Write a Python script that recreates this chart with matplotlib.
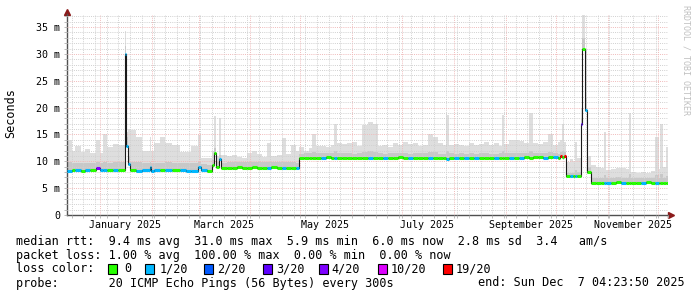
import numpy as np
import matplotlib
matplotlib.use('Agg')
import matplotlib.pyplot as plt
import matplotlib.dates as mdates
from matplotlib.ticker import MultipleLocator, FuncFormatter, NullFormatter
from matplotlib.patches import Rectangle

start = np.datetime64('2024-12-12T04:23:50')
end = np.datetime64('2025-12-07T04:23:50')

# days since start, median rtt (ms), smoke bands (ms), loss colour index
day = [0, 3, 5, 8.5, 10.5, 13.5, 17.5, 19.5, 21.5, 24, 27.5, 30.5, 34.5, 35.5, 36.5, 38,
       41.5, 45, 49.5, 50.5, 52, 55.5, 58.5, 63, 67.5, 71, 74.5, 78.5, 80.5, 84, 87, 88,
       89.5, 91, 92.5,
       96, 99, 102, 105, 108, 111, 114, 117, 120, 122, 126, 129, 131, 134, 137,
       139, 142, 145, 147, 149, 152, 155, 158, 160, 162, 165, 168, 171, 174, 177, 180,
       183, 186, 189, 192, 195, 198, 201, 204, 207, 210, 213, 216, 219, 222, 225, 227,
       229, 232, 235, 238, 241, 244, 247, 250, 253, 256, 259, 260.5, 262, 265, 268, 271,
       274, 277, 279, 282, 285, 288, 291, 294, 295.5, 296.5, 297.5,
       299, 301, 303, 304, 305.5, 307.6, 308.3, 310.2, 311.2,
       314.1, 317, 320, 321.5, 323, 326, 329, 332, 335, 336.5, 338, 341, 344, 347, 350,
       352.5, 354.5, 355.5, 357, 359]

median_ms = [8.2, 8.3, 8.3, 8.2, 8.3, 8.4, 8.8, 8.3, 8.3, 8.3, 8.3, 8.3, 30.0, 12.8, 9.5, 8.3,
             8.2, 8.3, 9.0, 8.2, 8.3, 8.3, 8.4, 8.3, 8.3, 8.2, 8.2, 8.9, 8.3, 8.2, 9.4, 11.5,
             9.0, 10.5, 8.8,
             8.8, 8.8, 8.9, 8.8, 8.8, 8.9, 8.8, 8.8, 8.8, 8.9, 8.8, 8.7, 8.8, 8.8, 8.7,
             10.6, 10.7, 10.7, 10.7, 10.6, 10.7, 10.8, 10.7, 10.7, 10.6, 10.7, 10.7, 10.6, 10.7, 10.7, 10.6,
             10.7, 10.7, 10.6, 10.7, 10.7, 10.8, 10.7, 10.6, 10.7, 10.7, 10.7, 10.6, 10.7, 10.6, 10.6, 10.5,
             10.7, 10.6, 10.7, 10.6, 10.7, 10.6, 10.7, 10.7, 10.6, 10.6, 10.7, 10.7, 10.7, 10.6, 10.7, 10.7,
             10.8, 10.7, 10.8, 10.8, 10.7, 10.8, 10.8, 10.6, 10.9, 10.8, 11.0,
             7.3, 7.2, 7.2, 7.2, 7.3, 17.0, 31.0, 19.5, 8.0,
             6.0, 6.0, 6.0, 6.0, 6.0, 6.0, 6.1, 6.0, 6.0, 6.0, 6.0, 6.0, 6.0, 6.1, 6.0,
             6.0, 6.0, 6.0, 6.0, 6.0]

smoke_mid_ms = [9.8, 9.6, 9.7, 9.6, 9.7, 9.6, 9.9, 9.6, 9.8, 9.7, 9.8, 9.9, 31.5, 14.5, 11.0, 9.8,
                9.8, 9.7, 9.8, 9.7, 9.6, 9.7, 9.8, 9.7, 9.6, 9.6, 9.7, 9.8, 9.5, 9.4, 10.2, 12.5,
                9.8, 11.2, 9.6,
                9.8, 9.8, 9.9, 9.8, 9.8, 9.9, 9.8, 9.8, 9.9, 9.8, 9.8, 9.9, 9.8, 9.8, 9.7,
                11.4, 11.5, 11.5, 11.8, 11.5, 11.5, 11.6, 11.5, 11.9, 11.5, 11.5, 11.5, 11.4, 11.5, 11.8, 11.9,
                11.8, 11.5, 11.4, 11.5, 11.5, 11.6, 11.5, 11.4, 11.5, 11.5, 11.5, 11.8, 11.7, 11.4, 11.4, 11.9,
                11.5, 11.4, 11.5, 11.4, 11.5, 11.4, 11.5, 11.5, 11.4, 11.4, 11.5, 11.9, 11.5, 11.6, 11.6, 11.6,
                11.6, 12.0, 11.6, 11.6, 11.5, 11.8, 11.6, 11.4, 11.8, 12.0, 11.8,
                7.9, 7.9, 7.9, 8.4, 8.0, 18.0, 33.0, 22.0, 9.0,
                6.9, 6.9, 6.9, 7.5, 6.9, 6.9, 7.0, 6.9, 6.9, 7.6, 6.8, 6.8, 6.9, 6.9, 6.9,
                7.4, 6.9, 7.6, 6.9, 7.2]

smoke_hi_ms = [14.0, 12.0, 12.8, 11.7, 12.3, 11.5, 14.0, 11.5, 15.0, 12.7, 13.2, 13.0, 34.3, 15.5, 16.0, 15.8,
               14.5, 12.0, 14.5, 12.0, 13.4, 14.5, 13.4, 13.0, 11.7, 11.7, 12.8, 14.9, 10.6, 10.6, 12.0, 18.5,
               11.0, 18.0, 11.2,
               11.0, 11.2, 10.8, 10.7, 11.5, 12.0, 11.3, 10.8, 13.4, 11.0, 11.2, 14.3, 11.3, 13.0, 12.0,
               12.6, 12.0, 12.5, 15.0, 12.8, 12.8, 12.6, 13.0, 17.0, 13.4, 13.2, 13.4, 13.6, 12.8, 16.8, 17.3,
               17.0, 12.8, 13.0, 12.6, 13.4, 13.0, 13.6, 13.2, 13.4, 12.8, 13.0, 15.0, 14.6, 13.4, 13.0, 18.6,
               13.0, 13.2, 13.0, 12.8, 13.4, 13.0, 13.2, 13.6, 13.0, 13.4, 12.8, 18.6, 13.2, 14.0, 14.0, 13.8,
               13.4, 19.0, 13.4, 13.2, 13.6, 15.0, 13.0, 13.6, 14.0, 17.0, 13.6,
               9.8, 10.4, 10.0, 13.6, 10.6, 20.0, 37.3, 31.0, 11.0,
               9.3, 9.0, 8.8, 15.5, 8.4, 8.5, 8.7, 8.8, 8.6, 19.0, 8.0, 7.8, 8.0, 7.9, 8.2,
               14.5, 8.5, 17.0, 9.0, 12.6]

loss_idx = [1, 0, 1, 0, 1, 0, 4, 1, 1, 0, 1, 0, 1, 1, 1, 0,
            1, 1, 1, 1, 1, 0, 1, 0, 1, 1, 1, 1, 1, 0, 0, 0,
            0, 1, 0,
            0, 0, 0, 0, 0, 0, 0, 0, 1, 0, 0, 1, 0, 0, 1,
            0, 0, 0, 0, 0, 1, 0, 0, 1, 0, 0, 0, 0, 0, 0, 1,
            0, 0, 1, 0, 0, 0, 0, 1, 0, 0, 0, 1, 0, 0, 0, 1,
            0, 1, 0, 1, 0, 1, 0, 0, 0, 1, 0, 0, 0, 1, 0, 1,
            0, 0, 0, 0, 1, 0, 1, 0, 6, 0, 6,
            0, 1, 0, 1, 0, 3, 0, 1, 0,
            0, 0, 0, 1, 1, 0, 0, 1, 0, 0, 0, 0, 1, 0, 0,
            1, 0, 0, 0, 0]

loss_labels = ['0', '1/20', '2/20', '3/20', '4/20', '10/20', '19/20']
loss_colors = ['#26ff00', '#00b8ff', '#0059ff', '#5e00ff', '#7e00ff', '#dd00ff', '#ff0000']

month_labels = ['January 2025', 'March 2025', 'May 2025', 'July 2025',
                'September 2025', 'November 2025']
month_label_dates = ['2025-01-16', '2025-03-16', '2025-05-16', '2025-07-16',
                     '2025-09-16', '2025-11-16']

line_rtt = 'median rtt:  9.4 ms avg  31.0 ms max  5.9 ms min  6.0 ms now  2.8 ms sd  3.4   am/s'
line_loss = 'packet loss: 1.00 % avg  100.00 % max  0.00 % min  0.00 % now'
line_probe = 'probe:       20 ICMP Echo Pings (56 Bytes) every 300s'
line_end = 'end: Sun Dec  7 04:23:50 2025'

plt.rcParams['font.family'] = 'DejaVu Sans Mono'

W, H = 697, 297
fig = plt.figure(figsize=(W / 100, H / 100), dpi=100)
ax = fig.add_axes([67 / W, 1 - 215 / H, 601 / W, (215 - 13.6) / H])

secs = (np.array(day) * 86400).astype('timedelta64[s]')
t = mdates.date2num(start + secs)
t_end = mdates.date2num(end)
te = np.append(t, t_end)
med = np.array(median_ms)
med_e = np.append(med, med[-1])
mid_e = np.append(smoke_mid_ms, smoke_mid_ms[-1])
hi_e = np.append(smoke_hi_ms, smoke_hi_ms[-1])

# smoke
ax.fill_between(te, med_e - 0.3, hi_e, step='post', color='#dedede', lw=0, zorder=1)
ax.fill_between(te, med_e - 0.2, mid_e, step='post', color='#c8c8c8', lw=0, zorder=1.2)

# median line + loss colours
ax.step(te, med_e, where='post', color='#1a1a1a', lw=0.8, zorder=3)
cols = [loss_colors[i] for i in loss_idx]
ax.hlines(med, te[:-1], te[1:], colors=cols, lw=2.2, zorder=4)

ax.set_xlim(mdates.date2num(start), t_end)
ax.set_ylim(0, 37.5)

ax.yaxis.set_major_locator(MultipleLocator(5))
ax.yaxis.set_minor_locator(MultipleLocator(1))
ax.yaxis.set_major_formatter(FuncFormatter(lambda v, p: '0' if v == 0 else '%d m' % v))
ax.xaxis.set_major_locator(mdates.MonthLocator())
ax.xaxis.set_minor_locator(mdates.WeekdayLocator(byweekday=mdates.SU))
ax.xaxis.set_major_formatter(NullFormatter())

ax.set_axisbelow(False)
ax.grid(which='major', color='#f0baba', linestyle=(0, (1, 1.2)), lw=0.7)
ax.grid(which='minor', color='#d0d0d0', linestyle=(0, (1, 1.2)), lw=0.7)
ax.tick_params(which='both', length=2, width=0.6, color='#b0b0b0', labelsize=7.2, pad=3)

for s in ['top', 'right']:
    ax.spines[s].set_visible(False)
for s in ['left', 'bottom']:
    ax.spines[s].set_color('#505050')
    ax.spines[s].set_linewidth(1.0)

ax.plot([0], [1.0 + 2 / 201], marker='^', ms=4, color='#8b1a1a', transform=ax.transAxes, clip_on=False)
ax.plot([1.0 + 3 / 601], [0], marker='>', ms=4, color='#8b1a1a', transform=ax.transAxes, clip_on=False)

for lab, d in zip(month_labels, month_label_dates):
    ax.text(mdates.date2num(np.datetime64(d)), -10 / 201, lab, ha='center', va='center',
            fontsize=7.2, transform=ax.get_xaxis_transform())

fig.text(11 / W, 1 - 113 / H, 'Seconds', rotation=90, ha='center', va='center', fontsize=8.5)
fig.text(686 / W, 1 - 60 / H, 'RRDTOOL / TOBI OETIKER', rotation=270, ha='center', va='center',
         fontsize=6, color='#c0c0c0')

fs = 8.5
fig.text(16 / W, 1 - 241 / H, line_rtt, va='center', fontsize=fs)
fig.text(16 / W, 1 - 255 / H, line_loss, va='center', fontsize=fs)
fig.text(16 / W, 1 - 269 / H, 'loss color:', va='center', fontsize=fs)
fig.text(16 / W, 1 - 283 / H, line_probe, va='center', fontsize=fs)
fig.text(478 / W, 1 - 283 / H, line_end, va='center', fontsize=fs)

box_x = [108, 145, 204, 263, 319, 377.5, 442.5]
text_x = [124, 160, 217.5, 276, 331, 391, 456]
for bx, tx, c, lab in zip(box_x, text_x, loss_colors, loss_labels):
    fig.patches.append(Rectangle((bx / W, 1 - 274 / H), 9 / W, 10 / H, transform=fig.transFigure,
                                 facecolor=c, edgecolor='black', lw=0.8))
    fig.text(tx / W, 1 - 269 / H, lab, va='center', fontsize=fs)

fig.savefig('out.png', dpi=100, facecolor='white')
